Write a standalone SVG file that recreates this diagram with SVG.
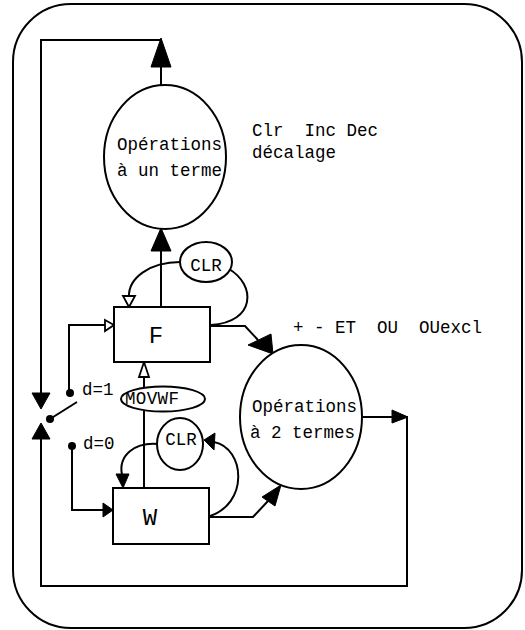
<svg xmlns="http://www.w3.org/2000/svg" width="525" height="630" viewBox="0 0 525 630">
<style>
.s{fill:none;stroke:#000;stroke-width:2}
.n{fill:#fff;stroke:#000;stroke-width:2}
.a{fill:#000;stroke:#000;stroke-width:1}
.h{fill:#fff;stroke:#000;stroke-width:1.8}
.t{font-family:"Liberation Mono","DejaVu Sans Mono",monospace;font-size:17.5px;fill:#000}
.b{font-family:"Liberation Mono","DejaVu Sans Mono",monospace;font-size:24px;fill:#000}
</style>
<rect x="13" y="4" width="509" height="624" rx="58" ry="58" fill="#fff" stroke="#000" stroke-width="2"/>
<g id="connectors">
  <polyline class="s" points="41,393 41,40 161,40"/>
  <polygon class="a" points="32,393 50,393 41,409"/>
  <polygon class="a" points="41,423 32,439 50,439"/>
  <polyline class="s" points="41,439 41,586 407,586 407,416"/>
  <line class="s" x1="161" y1="85" x2="161" y2="66"/>
  <polygon class="a" points="161,38 151,67 171,67"/>
  <line class="s" x1="161" y1="307" x2="161" y2="250"/>
  <polygon class="a" points="161,228 151,251 171,251"/>
  <path class="s" d="M180,262 C150,262 128,278 129,297"/>
  <polygon class="h" points="123,296 135,296 129,307"/>
  <path class="s" d="M229,269 C256,285 256,322 211,325"/>
  <polyline class="s" points="211,326 245,326 258,340"/>
  <polygon class="a" points="248,345 271,334 273,354"/>
  <line class="s" x1="144" y1="377" x2="144" y2="387"/>
  <polygon class="h" points="144,362 139,377 149,377"/>
  <line class="s" x1="144" y1="411" x2="144" y2="488"/>
  <polyline class="s" points="69,393 69,325 105,325"/>
  <polygon class="h" points="105,320 105,331 114,325"/>
  <polyline class="s" points="72,446 72,510 103,510"/>
  <polygon class="a" points="103,503 103,517 113,510"/>
  <path class="s" d="M158,444 C135,442 118,455 122,475"/>
  <polygon class="a" points="116,474 129,474 123,488"/>
  <path class="s" d="M207,517 C250,505 245,448 214,442"/>
  <polygon class="a" points="204,440 215,433 214,450"/>
  <polyline class="s" points="209,517 253,517 268,501"/>
  <polygon class="a" points="262,497 275,506 281,485"/>
  <line class="s" x1="362" y1="417" x2="392" y2="417"/>
  <polygon class="a" points="392,410 392,423 408,417"/>
</g>
<g id="switch">
  <circle cx="50" cy="419" r="4"/>
  <line class="s" x1="50" y1="419" x2="77" y2="402"/>
  <circle cx="70" cy="393" r="4"/>
  <circle cx="72" cy="446" r="4"/>
  <text class="t" x="82" y="395">d=1</text>
  <text class="t" x="83" y="449">d=0</text>
</g>
<g id="op1">
  <ellipse class="n" cx="165" cy="157" rx="61" ry="72"/>
  <text class="t" x="117" y="150">Opérations</text>
  <text class="t" x="117" y="176">à un terme</text>
</g>
<g id="op1-label">
  <text class="t" x="252" y="136" xml:space="preserve">Clr  Inc Dec</text>
  <text class="t" x="252" y="158">décalage</text>
</g>
<g id="op2">
  <ellipse class="n" cx="301" cy="417" rx="61" ry="72"/>
  <text class="t" x="252" y="412">Opérations</text>
  <text class="t" x="250" y="438">à 2 termes</text>
</g>
<g id="op2-label">
  <text class="t" x="293" y="333" xml:space="preserve">+ - ET  OU  OUexcl</text>
</g>
<g id="F">
  <rect class="n" x="114" y="307" width="96" height="55"/>
  <text class="b" x="156" y="343" text-anchor="middle">F</text>
</g>
<g id="W">
  <rect class="n" x="113" y="488" width="96" height="56"/>
  <text class="b" x="150" y="525" text-anchor="middle">W</text>
</g>
<g id="clr-f">
  <ellipse class="n" cx="206" cy="262" rx="26" ry="20"/>
  <text class="t" x="206" y="271" text-anchor="middle">CLR</text>
</g>
<g id="clr-w">
  <ellipse class="n" cx="180" cy="444" rx="23" ry="26"/>
  <text class="t" x="181" y="445" text-anchor="middle">CLR</text>
</g>
<g id="movwf">
  <ellipse class="n" cx="163" cy="399" rx="42" ry="12.5"/>
  <text class="t" x="152" y="404" text-anchor="middle" textLength="54">MOVWF</text>
</g>
</svg>
